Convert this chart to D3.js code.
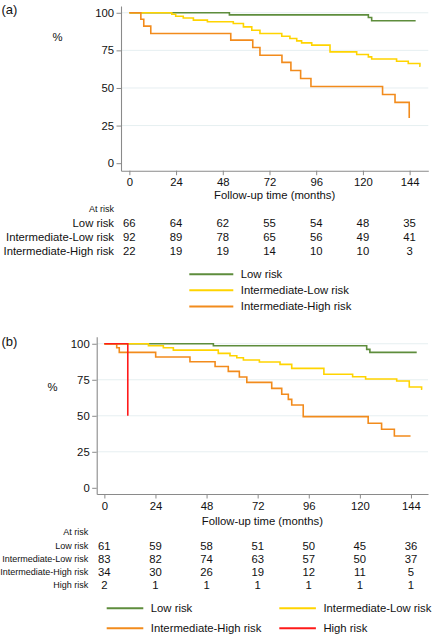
<!DOCTYPE html>
<html>
<head>
<meta charset="utf-8">
<script src="https://cdn.jsdelivr.net/npm/d3@7"></script>
<style>
  html, body { margin: 0; padding: 0; background: #fff; }
  svg { display: block; font-family: "Liberation Sans", Arial, Helvetica, sans-serif; }
</style>
</head>
<body>
<svg id="chart" width="433" height="637"></svg>
<script>
// ---------- DATA ----------
const tickMonths = [0, 24, 48, 72, 96, 120, 144];
const yTicks = [0, 25, 50, 75, 100];
const gridValues = [25, 50, 75, 100];

// Panel (a) Kaplan-Meier steps [month, % survival]
const aLow = [[0,100],[51.4,98.6],[122.8,96.9],[124.5,94.7],[147.1,94.7]];
const aIntLow = [[0,100],[21.8,99],[23.8,97.7],[27.7,96.5],[32.9,95.1],[40.1,94],[53.4,92.9],[58.6,90.6],[62.9,88.4],[67.1,86.2],[78.3,84.4],[82.5,82.9],[86,81.3],[88.5,80],[93.7,78.5],[103.1,74],[116.8,72.3],[122.8,70.7],[124.5,69.3],[137.3,67.8],[143.3,66.3],[149.3,64.5],[149.6,64.5]];
const aIntHigh = [[0,100],[5.9,95.7],[7.4,91.1],[11,86.2],[52.1,81.8],[63.4,76.9],[67.1,71.8],[78.4,67],[83,61.6],[88,56.3],[93.3,51],[130.1,45.7],[136.5,40.4],[143.8,30.1]];

// Panel (b)
const bLow = [[0,100],[51.2,98.6],[123.2,96.1],[124.7,94],[146.7,94]];
const bIntLow = [[0,100],[20.7,98.6],[27.7,97.2],[32.4,95.6],[53.5,93.3],[59,91.7],[62.2,90.3],[65.3,88.7],[72.8,87.3],[82.5,85.7],[88,82.9],[103.1,78.8],[116.6,77.1],[122.7,75.5],[137.3,74.1],[143.2,70],[149,68.4],[149.3,68.4]];
const bIntHigh = [[0,100],[5.8,97.2],[7,94],[24.1,90.8],[40.2,87.5],[52,84.2],[58.2,80.8],[63.4,76.9],[66.9,73.2],[78.6,69],[83.3,64.9],[86.4,61.4],[88,57.5],[93.4,49.4],[123.9,44.8],[130.2,40.6],[136.2,36],[143.8,36]];
const bHigh = [[0,100],[11,50]];

// Numbers at risk
const aRiskLow = [66, 64, 62, 55, 54, 48, 35];
const aRiskIntLow = [92, 89, 78, 65, 56, 49, 41];
const aRiskIntHigh = [22, 19, 19, 14, 10, 10, 3];
const bRiskLow = [61, 59, 58, 51, 50, 45, 36];
const bRiskIntLow = [83, 82, 74, 63, 57, 50, 37];
const bRiskIntHigh = [34, 30, 26, 19, 12, 11, 5];
const bRiskHigh = [2, 1, 1, 1, 1, 1, 1];

const groupNames = ["Low risk", "Intermediate-Low risk", "Intermediate-High risk", "High risk"];
const groupColors = ["#5e8d3c", "#ffd400", "#f28b1c", "#ff1a1a"];

// ---------- DRAW ----------
const svg = d3.select("#chart");
const FONT = 11.3;

function drawPanel(cfg) {
  const g = svg.append("g");
  const x = d3.scaleLinear().domain(cfg.xDomain).range([cfg.left, cfg.right]);
  const y = d3.scaleLinear().domain(cfg.yDomain).range([cfg.bottom, cfg.top]);

  // gridlines
  g.selectAll("line.grid").data(gridValues).join("line")
    .attr("x1", cfg.left).attr("x2", cfg.right)
    .attr("y1", d => y(d)).attr("y2", d => y(d))
    .attr("stroke", "#e6eff1").attr("stroke-width", 1);

  // axes
  const yAxis = g.append("g").attr("transform", `translate(${cfg.left},0)`)
    .call(d3.axisLeft(y).tickValues(yTicks).tickSize(4.5).tickSizeOuter(0).tickPadding(2.5));
  const xAxis = g.append("g").attr("transform", `translate(0,${cfg.bottom})`)
    .call(d3.axisBottom(x).tickValues(tickMonths).tickSize(4.5).tickSizeOuter(0).tickPadding(3));
  [yAxis, xAxis].forEach(ax => {
    ax.select(".domain").attr("stroke", "#8a8a8a").attr("stroke-width", 1.1);
    ax.selectAll(".tick line").attr("stroke", "#8a8a8a");
    ax.selectAll(".tick text").attr("fill", "#111").style("font-size", FONT + "px")
      .style("font-family", '"Liberation Sans", Arial, sans-serif');
  });

  // curves
  const line = d3.line().x(d => x(d[0])).y(d => y(d[1])).curve(d3.curveStepAfter);
  cfg.series.forEach((s, i) => {
    g.append("path").datum(s).attr("d", line)
      .attr("fill", "none").attr("stroke", groupColors[i]).attr("stroke-width", 1.6);
  });

  // labels
  g.append("text").attr("x", cfg.tagX).attr("y", cfg.tagY).attr("dy", "0.35em")
    .style("font-size", "13px").attr("fill", "#111").text(cfg.tag);
  g.append("text").attr("x", cfg.pctX).attr("y", cfg.pctY).attr("dy", "0.35em")
    .attr("text-anchor", "middle").style("font-size", FONT + "px").attr("fill", "#111").text("%");
  g.append("text").attr("x", (cfg.left + cfg.right) / 2).attr("y", cfg.xTitleY).attr("dy", "0.35em")
    .attr("text-anchor", "middle").style("font-size", FONT + "px").attr("fill", "#111")
    .text("Follow-up time (months)");

  // risk table
  g.append("text").attr("x", cfg.labelRight).attr("y", cfg.atRiskY).attr("dy", "0.35em")
    .attr("text-anchor", "end").style("font-size", "9px").attr("fill", "#111").text("At risk");
  cfg.risk.forEach((row, i) => {
    const yy = cfg.riskY0 + i * cfg.riskDy;
    g.append("text").attr("x", cfg.labelRight).attr("y", yy).attr("dy", "0.35em")
      .attr("text-anchor", "end").style("font-size", cfg.labelFont + "px").attr("fill", "#111")
      .text(groupNames[i]);
    g.selectAll(null).data(row).join("text")
      .attr("x", (d, j) => x(tickMonths[j])).attr("y", yy).attr("dy", "0.35em")
      .attr("text-anchor", "middle").style("font-size", FONT + "px").attr("fill", "#111")
      .text(d => d);
  });

  // legend
  cfg.legend.forEach((it, i) => {
    g.append("line").attr("x1", it.x).attr("x2", it.x + cfg.legLen)
      .attr("y1", it.y).attr("y2", it.y)
      .attr("stroke", groupColors[i]).attr("stroke-width", 2);
    g.append("text").attr("x", it.x + cfg.legLen + 7.5).attr("y", it.y).attr("dy", "0.35em")
      .style("font-size", FONT + "px").attr("fill", "#111").text(groupNames[i]);
  });
}

drawPanel({
  tag: "(a)", tagX: 1.5, tagY: 9.5, pctX: 57.5, pctY: 37,
  left: 121, right: 428.3, top: 6, bottom: 170.7,
  xDomain: [-4.3, 153.6], yDomain: [-5, 104.5],
  xTitleY: 195,
  labelRight: 114, atRiskY: 209.3, riskY0: 223.3, riskDy: 13.7, labelFont: FONT,
  series: [aLow, aIntLow, aIntHigh],
  risk: [aRiskLow, aRiskIntLow, aRiskIntHigh],
  legLen: 44,
  legend: [{x: 189.3, y: 274.2}, {x: 189.3, y: 290.2}, {x: 189.3, y: 306.4}]
});

drawPanel({
  tag: "(b)", tagX: 1.5, tagY: 341.7, pctX: 52.5, pctY: 387.3,
  left: 96.7, right: 428, top: 336.7, bottom: 494,
  xDomain: [-3.6, 152], yDomain: [-4.3, 104.9],
  xTitleY: 520.7,
  labelRight: 88.3, atRiskY: 532.3, riskY0: 545.7, riskDy: 13.1, labelFont: 9,
  series: [bLow, bIntLow, bIntHigh, bHigh],
  risk: [bRiskLow, bRiskIntLow, bRiskIntHigh, bRiskHigh],
  legLen: 36.6,
  legend: [{x: 106.7, y: 608.3}, {x: 279.3, y: 608.3}, {x: 106.7, y: 628.3}, {x: 279.3, y: 628.3}]
});
</script>
</body>
</html>
